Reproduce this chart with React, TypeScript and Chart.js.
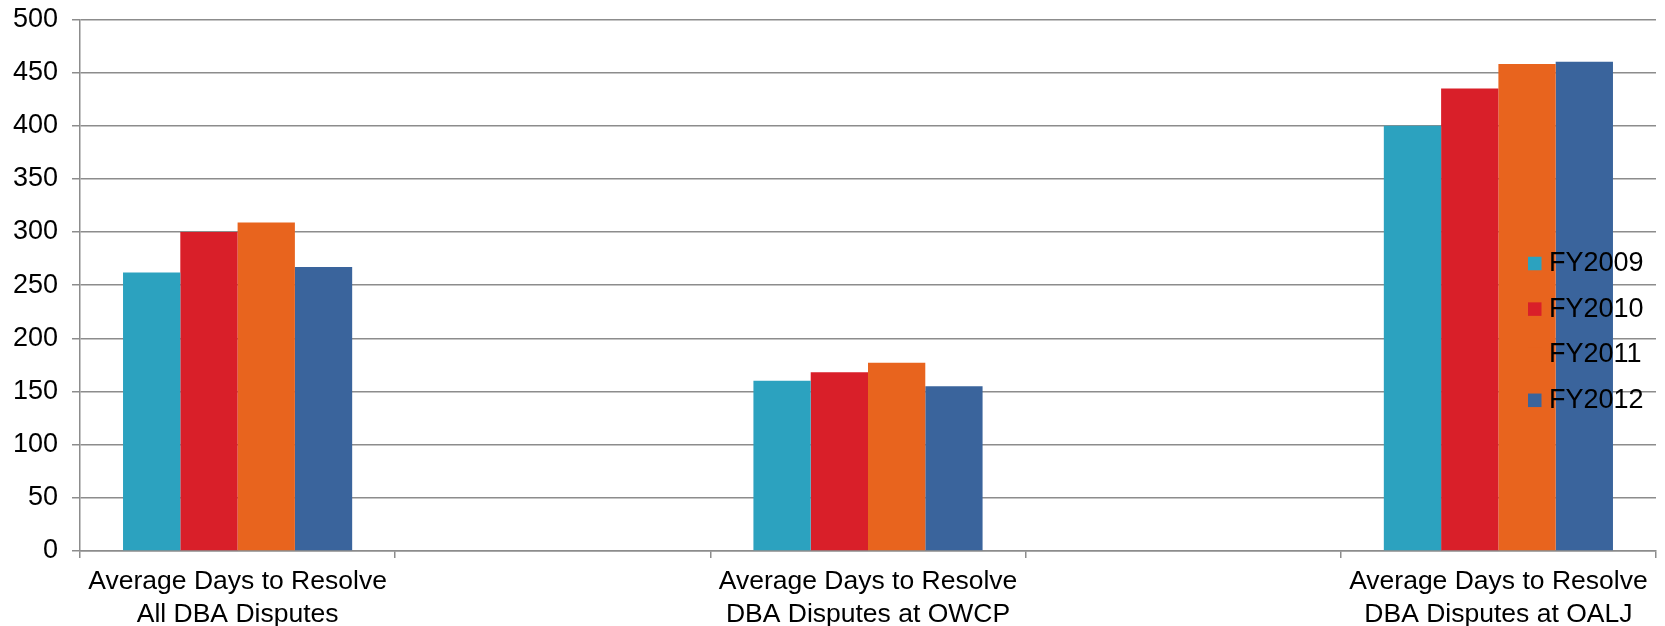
import React, { useEffect, useRef } from "react";
import { Chart, registerables } from "chart.js";

Chart.register(...registerables);

const categories: (string | string[])[] = [
  ["Average Days to Resolve", "All DBA Disputes"],
  "",
  ["Average Days to Resolve", "DBA Disputes at OWCP"],
  "",
  ["Average Days to Resolve", "DBA Disputes at OALJ"],
];

const seriesNames = ["FY2009", "FY2010", "FY2011", "FY2012"];
const fy2009 = [262, null, 160, null, 400];
const fy2010 = [300, null, 168, null, 435];
const fy2011 = [309, null, 177, null, 458];
const fy2012 = [267, null, 155, null, 460];
const seriesColors = ["#2ca2bf", "#d91f29", "#e8641e", "#3a649c"];

const yMin = 0;
const yMax = 500;
const yStep = 50;

const FONT = '"Liberation Sans", Arial, sans-serif';
const GRID = "#8c8c8c";

const legendPlugin = {
  id: "customLegend",
  afterDraw(chart: any, _args: any, opts: any) {
    const ctx = chart.ctx;
    ctx.save();
    ctx.font = `${opts.fontSize}px ${FONT}`;
    ctx.textBaseline = "middle";
    ctx.textAlign = "left";
    chart.data.datasets.forEach((ds: any, i: number) => {
      const cy = opts.y + i * opts.rowGap;
      ctx.fillStyle = ds.backgroundColor;
      ctx.fillRect(opts.x, cy - opts.box / 2, opts.box, opts.box);
      ctx.fillStyle = "#000";
      ctx.fillText(ds.label, opts.x + opts.box + opts.gap, cy);
    });
    ctx.restore();
  },
};

export default function App() {
  const ref = useRef<HTMLCanvasElement>(null);

  useEffect(() => {
    document.body.style.margin = "0";
    const values = [fy2009, fy2010, fy2011, fy2012];
    const chart = new Chart(ref.current!, {
      type: "bar",
      data: {
        labels: categories,
        datasets: seriesNames.map((name, i) => ({
          label: name,
          data: values[i],
          backgroundColor: seriesColors[i],
          borderWidth: 0,
          barPercentage: 1,
          categoryPercentage: 0.727,
        })),
      },
      options: {
        animation: false,
        responsive: true,
        maintainAspectRatio: false,
        devicePixelRatio: 1,
        layout: { padding: { top: 19.3, right: 9, left: 0, bottom: 0 } },
        plugins: {
          legend: { display: false },
          tooltip: { enabled: false },
          customLegend: {
            x: 1528,
            y: 263.5,
            rowGap: 45.6,
            box: 13.5,
            gap: 7.5,
            fontSize: 27,
          },
        } as any,
        scales: {
          x: {
            offset: true,
            grid: {
              display: true,
              drawOnChartArea: false,
              drawTicks: true,
              tickLength: 7,
              offset: true,
              color: GRID,
              lineWidth: 1.5,
            },
            border: { display: true, color: GRID, width: 1.5 },
            ticks: {
              autoSkip: false,
              maxRotation: 0,
              minRotation: 0,
              padding: 8,
              color: "#000",
              font: { family: FONT, size: 26.5, lineHeight: 1.22 },
            },
            afterFit: (s: any) => {
              s.height = 75;
              s.paddingLeft = 0;
              s.paddingRight = 0;
            },
          },
          y: {
            min: yMin,
            max: yMax,
            ticks: {
              stepSize: yStep,
              padding: 14,
              color: "#000",
              font: { family: FONT, size: 27 },
            },
            grid: {
              color: GRID,
              lineWidth: 1.5,
              drawTicks: true,
              tickLength: 8,
            },
            border: { display: true, color: GRID, width: 1.5 },
            afterFit: (s: any) => {
              s.width = 80;
              s.paddingTop = 0;
              s.paddingBottom = 0;
            },
          },
        },
      },
      plugins: [legendPlugin],
    });
    return () => chart.destroy();
  }, []);

  return (
    <div style={{ position: "relative", width: "1665px", height: "626px" }}>
      <canvas ref={ref} />
    </div>
  );
}
